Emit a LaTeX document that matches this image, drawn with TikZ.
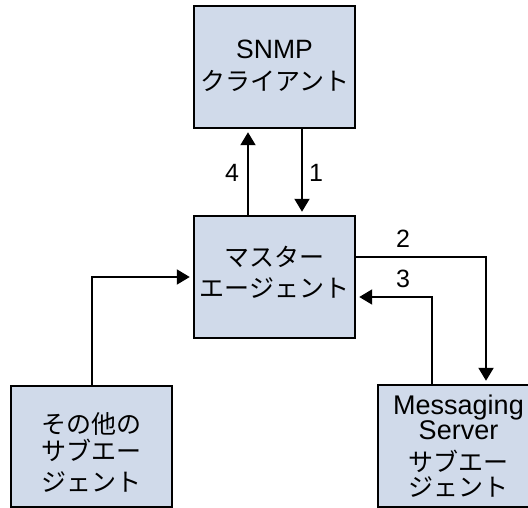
\documentclass[tikz,border=0pt]{standalone}
\usepackage{fontspec}
\setmainfont{Liberation Sans}
\newfontfamily\cjk{Noto Sans CJK JP}
\usetikzlibrary{arrows.meta}
\definecolor{boxfill}{RGB}{208,218,234}
\setlength{\lineskiplimit}{-100pt}
\newcommand{\jp}[1]{{\cjk\fontsize{25}{20}\selectfont #1}}
\tikzset{
  agentbox/.style={draw=black, line width=2.4pt, fill=boxfill,
    minimum width=161pt, minimum height=122pt, inner sep=0pt},
  boxtext/.style={inner sep=0pt, align=center, font=\fontsize{26.5}{20}\selectfont},
  flow/.style={line width=2pt, -{Triangle[length=13pt,width=15pt]}, shorten >=3pt},
  num/.style={font=\fontsize{25}{25}\selectfont, inner sep=0pt}
}
\begin{document}
\begin{tikzpicture}[x=1pt,y=-1pt]
\useasboundingbox (0,0) rectangle (528,508);
% agent boxes
\node[agentbox] (snmp) at (274.5,67) {};
\node[agentbox] (master) at (274.5,277) {};
\node[agentbox, minimum height=121pt] (other) at (91.5,446.5) {};
\node[agentbox] (msg) at (458.5,446) {};
% box captions
\node[boxtext] (snmp-t) at ([yshift=1pt]snmp.center) {SNMP\\[12.5pt]\jp{クライアント}};
\node[boxtext] (master-t) at ([yshift=4.5pt]master.center) {\jp{マスター}\\[10.5pt]\jp{エージェント}};
\node[boxtext] (other-t) at ([yshift=-5.5pt]other.center) {\jp{その他の}\\[7pt]\jp{サブエー}\\[11pt]\jp{ジェント}};
\node[boxtext, font=\fontsize{27}{20}\selectfont] (msg-t) at (msg.center) {Messaging\\[5pt]Server\\[12pt]\jp{サブエー}\\[5.5pt]\jp{ジェント}};
% request / response flows
\draw[flow] ([xshift=27.5pt]snmp.south) -- ([xshift=27.5pt]master.north);
\draw[flow] ([xshift=-26.5pt]master.north) -- ([xshift=-26.5pt]snmp.south);
\draw[flow] ([yshift=20pt]master.east) -| ([xshift=27.5pt]msg.north);
\draw[flow] ([xshift=-26.5pt]msg.north) |- ([yshift=-20pt]master.east);
\draw[flow] (other.north) |- (master.west);
% step numbers
\node[num] (n4) at (232,173) {4};
\node[num] (n1) at (316,173) {1};
\node[num] (n2) at (403,239) {2};
\node[num] (n3) at (403,279) {3};
\end{tikzpicture}
\end{document}
